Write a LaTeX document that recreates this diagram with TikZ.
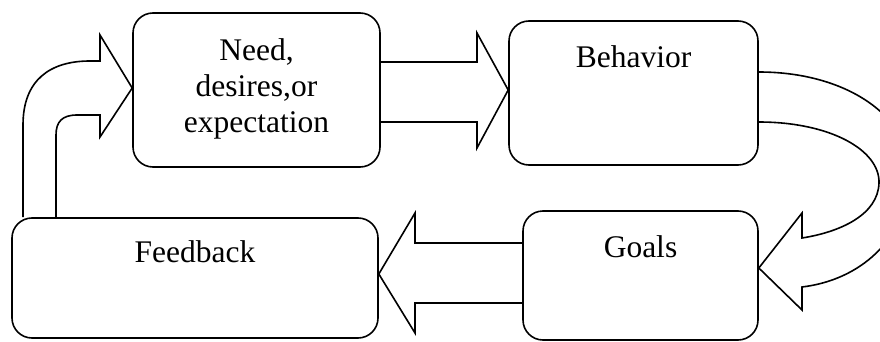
\documentclass[tikz,border=0pt]{standalone}
\usepackage{fontspec}
\setmainfont{Liberation Serif}
\usetikzlibrary{calc}

\tikzset{
  box/.style={draw, rounded corners=20pt, line width=1.6pt, inner sep=0pt},
  blockarrow/.style={draw, line width=1.6pt, line join=miter},
  lbl/.style={font=\fontsize{31.5}{36}\selectfont, align=center, inner sep=0pt}
}

\begin{document}
\begin{tikzpicture}[x=1pt, y=-1pt]

\useasboundingbox (0,0) rectangle (880,342);
\clip (0,0) rectangle (880,342);

% Boxes
\node[box, minimum width=247pt, minimum height=154pt] (need) at (256.5,90) {};
\node[lbl] (needtext) at (256.5,89) {Need,\\desires,or\\expectation};

\node[box, minimum width=249pt, minimum height=144pt] (behavior) at (633.5,93) {};
\node[lbl, anchor=base] (behaviortext) at (633.5,68) {Behavior};

\node[box, minimum width=235pt, minimum height=129pt] (goals) at (640.5,275.5) {};
\node[lbl, anchor=base] (goalstext) at (640.5,257) {Goals};

\node[box, minimum width=366pt, minimum height=120pt] (feedback) at (195,278) {};
\node[lbl, anchor=base] (feedbacktext) at (195,262) {Feedback};

% Feedback -> Need
\draw[blockarrow] (feedback.north -| 23,0) -- (23,125)
  .. controls (23,80) and (50,61) .. (90,61) -- (100,61) -- (100,35)
  -- (need.west |- 0,88) -- (100,137) -- (100,115) -- (77,115)
  .. controls (62,115) and (56,122) .. (56,135) -- (feedback.north -| 56,0);

% Need -> Behavior
\draw[blockarrow] (need.east |- 0,62) -- (477,62) -- (477,33)
  -- (behavior.west |- 0,90) -- (477,148) -- (477,122) -- (need.east |- 0,122);

% Behavior -> Goals
\draw[blockarrow] (behavior.east |- 0,72)
  .. controls (850,72) and (915,120) .. (910,180)
  .. controls (905,240) and (860,280) .. (802,287) -- (802,310)
  -- (goals.east |- 0,268) -- (802,213) -- (802,238)
  .. controls (840,232) and (878,215) .. (879,183)
  .. controls (880,150) and (830,122) .. (behavior.east |- 0,122);

% Goals -> Feedback
\draw[blockarrow] (goals.west |- 0,243) -- (415,243) -- (415,213)
  -- (feedback.east |- 0,274) -- (415,333) -- (415,303) -- (goals.west |- 0,303);

\end{tikzpicture}
\end{document}
